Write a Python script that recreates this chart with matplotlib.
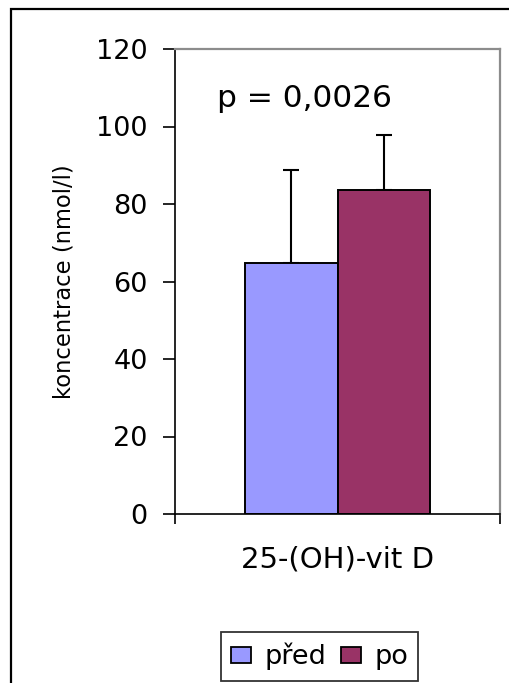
import matplotlib.pyplot as plt
from matplotlib.patches import Rectangle, Patch

category = "25-(OH)-vit D"
series = ["před", "po"]
means = [64.7, 83.5]
errors_up = [24.0, 14.3]
colors = ["#9999FF", "#993366"]
yticks = [0, 20, 40, 60, 80, 100, 120]

plt.rcParams['font.family'] = ['DejaVu Sans']

fig = plt.figure(figsize=(5.1, 6.83), dpi=100)
ax = fig.add_axes([175 / 510, 1 - 514 / 683, 325 / 510, 465 / 683])

# outer frame, cut off at the right and bottom like the original
fig.patches.append(Rectangle((11 / 510, -0.1), 1.2, 1.1 - 9 / 683, transform=fig.transFigure,
                             fill=False, edgecolor="black", linewidth=1.6, clip_on=False))

width = 0.284
offsets = [-0.142, 0.142]
for i in range(len(series)):
    ax.bar(offsets[i], means[i], width=width, color=colors[i], edgecolor="black",
           linewidth=1.4, zorder=2)
    ax.errorbar(offsets[i], means[i], yerr=[[0], [errors_up[i]]], fmt="none",
                ecolor="black", elinewidth=1.5, capsize=5.5, capthick=1.5, zorder=1)

ax.set_xlim(-0.5, 0.5)
ax.set_ylim(0, 120)
ax.set_yticks(yticks)
ax.set_yticklabels([str(t) for t in yticks], fontsize=19.5)
ax.tick_params(axis="y", direction="out", length=8.6, width=1.2, pad=11)

ax.set_xticks([0])
ax.set_xticklabels([category], fontsize=21)
ax.set_xticks([-0.5, 0.5], minor=True)
ax.tick_params(axis="x", which="major", length=0, pad=23)
ax.tick_params(axis="x", which="minor", direction="out", length=7.2, width=1.2)

ax.set_ylabel("koncentrace (nmol/l)", fontsize=16.3, labelpad=15)

for s in ["left", "bottom"]:
    ax.spines[s].set_color("black")
    ax.spines[s].set_linewidth(1.2)
for s in ["top", "right"]:
    ax.spines[s].set_color("#8C8C8C")
    ax.spines[s].set_linewidth(1.6)

ax.text(-0.5 + 42 / 325, 105, "p = 0,0026", fontsize=22.5, va="baseline", ha="left")

handles = [Patch(facecolor=c, edgecolor="black", linewidth=1.3) for c in colors]
leg = fig.legend(handles, series, loc="center", bbox_to_anchor=(319.5 / 510, 1 - 656.5 / 683),
                 ncol=2, fontsize=19.5, frameon=True, fancybox=False, handlelength=0.75,
                 handleheight=0.55, handletextpad=0.48, columnspacing=0.55, borderpad=0.38,
                 borderaxespad=0)
leg.get_frame().set_edgecolor("black")
leg.get_frame().set_linewidth(1.3)

fig.savefig("out.png", dpi=100)
